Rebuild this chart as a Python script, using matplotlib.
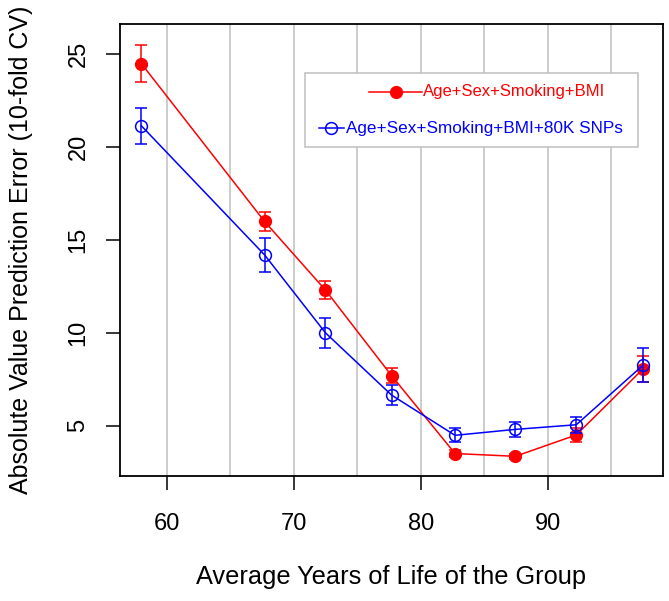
import matplotlib
matplotlib.use("Agg")
import matplotlib.pyplot as plt
from matplotlib.lines import Line2D
from matplotlib.patches import Rectangle

plt.rcParams['font.family'] = ['Liberation Sans', 'DejaVu Sans']

ages = [58.0, 67.7, 72.5, 77.7, 82.7, 87.45, 92.25, 97.5]
base_err = [24.5, 16.0, 12.3, 7.7, 3.5, 3.35, 4.5, 8.05]
base_sd = [1.0, 0.5, 0.5, 0.38, 0.2, 0.15, 0.38, 0.7]
snp_err = [21.15, 14.2, 10.0, 6.65, 4.48, 4.8, 5.05, 8.25]
snp_sd = [0.97, 0.93, 0.8, 0.52, 0.38, 0.4, 0.43, 0.92]
grid_x = [60, 65, 70, 75, 80, 85, 90, 95]
xticks = [60, 70, 80, 90]
yticks = [5, 10, 15, 20, 25]
label_base = "Age+Sex+Smoking+BMI"
label_snp = "Age+Sex+Smoking+BMI+80K SNPs"

W, H = 669, 601
fig = plt.figure(figsize=(W / 100, H / 100), dpi=100)
ax = fig.add_axes([120 / W, 1 - 476 / H, (663 - 120) / W, (476 - 24) / H])

for g in grid_x:
    ax.axvline(g, color="#bebebe", lw=1.1, zorder=0)

RED = "#ff0000"
BLUE = "#0000ff"
ax.errorbar(ages, base_err, yerr=base_sd, color=RED, marker="o", ms=8.5,
            mfc=RED, mec=RED, lw=1.1, elinewidth=1.1, capsize=4, capthick=1.1, zorder=3)
ax.errorbar(ages, snp_err, yerr=snp_sd, color=BLUE, marker="o", ms=8.5,
            mfc="none", mec=BLUE, mew=1.1, lw=1.1, elinewidth=1.1, capsize=4, capthick=1.1, zorder=4)

ax.set_xlim(56.32, 99.08)
ax.set_ylim(2.29, 26.63)
ax.set_xticks(xticks)
ax.set_yticks(yticks)
ax.tick_params(axis="both", length=10, width=1.1, labelsize=17)
ax.tick_params(axis="x", pad=17)
ax.tick_params(axis="y", pad=12)
for lab in ax.get_yticklabels():
    lab.set_rotation(90)
    lab.set_va("center")
for s in ax.spines.values():
    s.set_linewidth(1.3)

ax.set_xlabel("Average Years of Life of the Group", fontsize=18.3, labelpad=21)
ax.set_ylabel("Absolute Value Prediction Error (10-fold CV)", fontsize=18, labelpad=25)

# legend (manual, in axes coordinates)
def fx(px):
    return (px - 120) / (663 - 120)

def fy(py):
    return (476 - py) / (476 - 24)

ax.add_patch(Rectangle((fx(305), fy(147)), fx(638) - fx(305), fy(73) - fy(147),
                       transform=ax.transAxes, facecolor="white", edgecolor="#bebebe",
                       lw=1.1, zorder=5))
ax.add_line(Line2D([fx(369), fx(422)], [fy(91.7)] * 2, transform=ax.transAxes,
                   color=RED, lw=1.1, zorder=6))
ax.add_line(Line2D([fx(396)], [fy(91.7)], transform=ax.transAxes, marker="o", ms=8.5,
                   color=RED, zorder=6))
ax.text(fx(423), fy(91.7), label_base, transform=ax.transAxes, color=RED,
        fontsize=12, va="center", ha="left", zorder=6)
ax.add_line(Line2D([fx(319), fx(344)], [fy(128.3)] * 2, transform=ax.transAxes,
                   color=BLUE, lw=1.1, zorder=6))
ax.add_line(Line2D([fx(331)], [fy(128.3)], transform=ax.transAxes, marker="o", ms=8.5,
                   mfc="none", mec=BLUE, mew=1.1, zorder=6))
ax.text(fx(346), fy(128.3), label_snp, transform=ax.transAxes, color=BLUE,
        fontsize=12.3, va="center", ha="left", zorder=6)

fig.savefig("out.png", dpi=100)
